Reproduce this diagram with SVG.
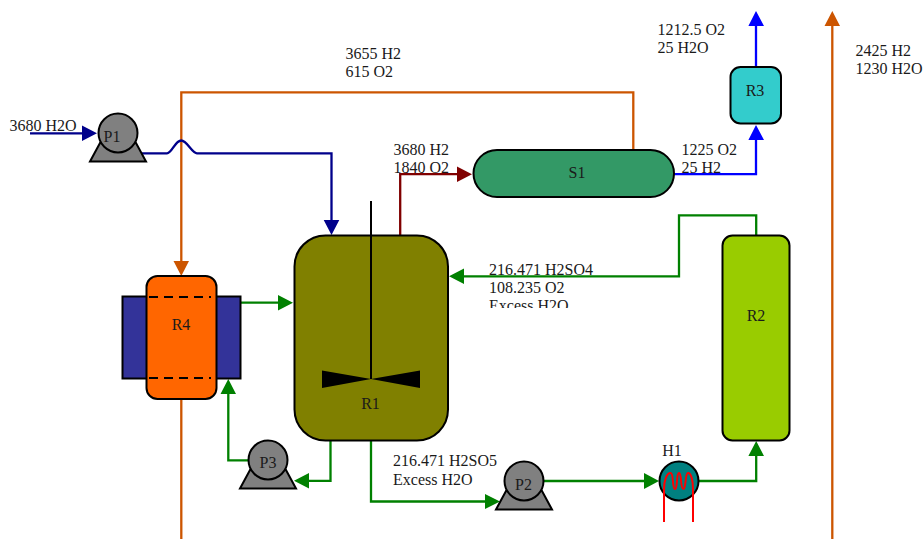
<svg xmlns="http://www.w3.org/2000/svg" width="924" height="539" viewBox="0 0 924 539">
<style>
text{font-family:"Liberation Serif","Times New Roman",serif;font-size:16px;fill:#1a1a1a}
.c{text-anchor:middle}
.n{stroke:#000;stroke-width:2}
.w{fill:none;stroke-width:2.300}
.o{stroke:#cc5500}.g{stroke:#008000}.b{stroke:#00008b}.u{stroke:#0000ff}.r{stroke:#800000}
.fo{fill:#cc5500}.fg{fill:#008000}.fb{fill:#00008b}.fu{fill:#0000ff}.fr{fill:#800000}
.pump{fill:#808080;stroke:#000;stroke-width:2}
</style>
<defs>
<clipPath id="clip"><rect x="480" y="260" width="130" height="48"/></clipPath>
<g id="pumpShape"><path class="pump" d="M-28 28.500L-18 10H18L28 28.500Z"/><circle class="pump" r="19.500"/></g>
</defs>
<g id="connectors">
<path class="w o" d="M633.300 150V92.300H181.300V261M181.300 399V539M832.300 539V26"/>
<path class="w b" d="M30 133.300H83M141 153.300H167C172 153.300 175 140.500 181.300 140.500C187 140.500 192 153.300 197 153.300H331.500V220"/>
<path class="w g" d="M241 302.700H279M330.500 440V480.800H309M248 460.300H228.300V394M371 440V501.500H486M543 481H645M698 481H756.200V456M756.200 235V215.300H679V276.300H464"/>
<path class="w r" d="M400.200 235V174.200H458"/>
<path class="w u" d="M674 174.200H756V140M756 67V26"/>
<path class="fb" d="M82 125.500L97 133.300L82 141ZM323.700 220H339.300L331.500 235Z"/>
<path class="fo" d="M173.500 261H189L181.300 276ZM824.500 26H840L832.300 11Z"/>
<path class="fg" d="M278 295L293 302.700L278 310.500ZM309 473L294 480.800L309 488.500ZM220.500 394H236L228.300 379ZM485 494L500 501.500L485 509ZM644 473L659 481L644 489ZM748.400 456H764L756.200 441ZM464 268.500L449 276.300L464 284Z"/>
<path class="fr" d="M457 166.500L472 174.200L457 182Z"/>
<path class="fu" d="M748.400 140H764L756 125ZM748.400 26H764L756 11Z"/>
</g>
<g id="R1">
<rect class="n" x="294.500" y="235.500" width="153.500" height="205" rx="31" fill="#808000"/>
<path d="M322 370.500L371 379L420 370.500V388L371 379L322 388Z" fill="#000"/>
<path class="n" d="M371 201V379" fill="none"/>
<text class="c" x="370.500" y="409">R1</text>
</g>
<g id="R2">
<rect class="n" x="722.500" y="235.500" width="67" height="205" rx="10" fill="#99cc00"/>
<text class="c" x="756" y="321">R2</text>
</g>
<g id="R3">
<rect class="n" x="730.500" y="67" width="50.500" height="56.500" rx="10" fill="#33cccc"/>
<text class="c" x="755" y="96">R3</text>
</g>
<g id="R4">
<rect class="n" x="122.500" y="296.500" width="118" height="82" fill="#333399"/>
<rect class="n" x="146.500" y="276" width="70" height="123" rx="11" fill="#ff6600"/>
<path d="M149 297H211M149 378H211" fill="none" stroke="#000" stroke-width="2" stroke-dasharray="9 6"/>
<text class="c" x="181" y="330">R4</text>
</g>
<g id="S1">
<rect class="n" x="473.500" y="150" width="200.500" height="47" rx="23.500" fill="#339966"/>
<text class="c" x="577" y="178">S1</text>
</g>
<g id="P1"><use href="#pumpShape" x="118" y="133"/><text class="c" x="112" y="142">P1</text></g>
<g id="P2"><use href="#pumpShape" x="524" y="481"/><text class="c" x="523.500" y="490">P2</text></g>
<g id="P3"><use href="#pumpShape" x="268" y="460"/><text class="c" x="268" y="468">P3</text></g>
<g id="H1">
<circle class="n" cx="679" cy="481" r="19.500" fill="#008080"/>
<path d="M664 522V489C664 480 667 473 670.500 473C674 473 672 489 675 489C678 489 676 473 679 473C682 473 680 489 683.500 489C686 489 685 473 688 473C691 473 693 480 693 489V522" fill="none" stroke="#ff0000" stroke-width="2"/>
<text class="c" x="672" y="456">H1</text>
</g>
<g id="labels">
<text x="9.500" y="131">3680 H2O</text>
<text x="345.500" y="59">3655 H2</text><text x="345.500" y="77">615 O2</text>
<text x="657.500" y="35">1212.5 O2</text><text x="657.500" y="53">25 H2O</text>
<text x="855.500" y="56">2425 H2</text><text x="855.500" y="74">1230 H2O</text>
<text x="393.500" y="155">3680 H2</text><text x="393.500" y="173">1840 O2</text>
<text x="681.500" y="155">1225 O2</text><text x="681.500" y="173">25 H2</text>
<g clip-path="url(#clip)"><text x="489" y="275">216.471 H2SO4</text><text x="489" y="293">108.235 O2</text><text x="489" y="311">Excess H2O</text></g>
<text x="393" y="466">216.471 H2SO5</text><text x="393" y="485">Excess H2O</text>
</g>
</svg>
